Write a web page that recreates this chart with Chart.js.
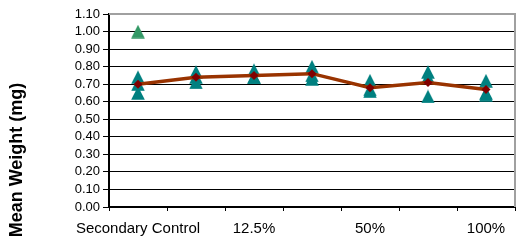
<!DOCTYPE html>
<html>
<head>
<meta charset="utf-8">
<script src="https://cdn.jsdelivr.net/npm/chart.js@4"></script>
<style>
  html, body { margin: 0; padding: 0; background: #fff; }
  canvas { display: block; }
</style>
</head>
<body>
<canvas id="c" width="516" height="242"></canvas>
<script>
// ---- data ----
const categories = ['Secondary Control', '6.25%', '12.5%', '25%', '50%', '75%', '100%'];
const rep1 = [0.74, 0.77, 0.78, 0.80, 0.72, 0.77, 0.72];
const rep2 = [0.70, 0.74, 0.74, 0.75, 0.67, 0.74, 0.65];
const rep3 = [0.65, 0.71, 0.74, 0.73, 0.66, 0.63, 0.64];
const outlier = [1.00, null, null, null, null, null, null];
const means = [0.70, 0.74, 0.75, 0.76, 0.68, 0.71, 0.67];
const yTitle = 'Mean Weight (mg)';

const FONT = '"Liberation Sans", Arial, sans-serif';

function triangleImage(color) {
  const cv = document.createElement('canvas');
  cv.width = 14; cv.height = 14;
  const g = cv.getContext('2d');
  g.fillStyle = color;
  g.beginPath();
  g.moveTo(7, 0.2);
  g.lineTo(13.8, 13.8);
  g.lineTo(0.2, 13.8);
  g.closePath();
  g.fill();
  return cv;
}
const tealTri = triangleImage('#008080');
const greenTri = triangleImage('#339966');

function repDataset(values, img) {
  return {
    data: values,
    showLine: false,
    pointStyle: img,
    pointRadius: 7,
    order: 2
  };
}

const framePlugin = {
  id: 'frame',
  beforeDatasetsDraw(chart) {
    const a = chart.chartArea, ctx = chart.ctx;
    ctx.save();
    ctx.strokeStyle = '#a0a0a0';
    ctx.lineWidth = 2;
    ctx.beginPath();
    ctx.moveTo(a.left, a.top);
    ctx.lineTo(a.right, a.top);
    ctx.lineTo(a.right, a.bottom);
    ctx.stroke();
    ctx.restore();
  },
  afterDraw(chart) {
    const ctx = chart.ctx;
    ctx.save();
    ctx.translate(17, 160);
    ctx.rotate(-Math.PI / 2);
    ctx.font = 'bold 18px ' + FONT;
    ctx.fillStyle = '#000';
    ctx.textAlign = 'center';
    ctx.textBaseline = 'middle';
    ctx.fillText(yTitle, 0, 0);
    ctx.restore();
  }
};

new Chart(document.getElementById('c'), {
  type: 'line',
  data: {
    labels: categories,
    datasets: [
      {
        data: means,
        borderColor: '#993300',
        borderWidth: 3.5,
        pointStyle: 'rectRot',
        pointRadius: 4.5,
        pointBackgroundColor: '#800000',
        pointBorderColor: '#800000',
        pointBorderWidth: 0,
        tension: 0,
        order: 0
      },
      repDataset(rep1, tealTri),
      repDataset(rep2, tealTri),
      repDataset(rep3, tealTri),
      repDataset(outlier, greenTri)
    ]
  },
  options: {
    responsive: false,
    animation: false,
    layout: { autoPadding: false, padding: { top: 14, right: 1, left: 0, bottom: 0 } },
    plugins: { legend: { display: false }, tooltip: { enabled: false }, title: { display: false } },
    scales: {
      x: {
        type: 'category',
        offset: true,
        grid: {
          offset: true,
          drawOnChartArea: false,
          drawTicks: true,
          tickLength: 4,
          tickColor: '#000',
          tickWidth: 1
        },
        border: { color: '#000', width: 2 },
        ticks: {
          autoSkip: false,
          maxRotation: 0,
          minRotation: 0,
          padding: 9,
          color: '#000',
          font: { family: FONT, size: 15 },
          callback: (v, i) => (i % 2 === 0 ? categories[i] : '')
        },
        afterFit(scale) {
          scale.height = 35;
          scale.paddingRight = 0;
          scale.paddingLeft = 0;
        }
      },
      y: {
        min: 0,
        max: 1.1,
        grid: {
          color: '#000',
          lineWidth: 1,
          tickLength: 6,
          tickColor: '#000',
          drawTicks: true
        },
        border: { color: '#000', width: 2 },
        ticks: {
          stepSize: 0.1,
          autoSkip: false,
          padding: 3,
          color: '#000',
          font: { family: FONT, size: 13 },
          callback: v => Number(v).toFixed(2)
        },
        afterFit(scale) { scale.width = 109; }
      }
    }
  },
  plugins: [framePlugin]
});
</script>
</body>
</html>
